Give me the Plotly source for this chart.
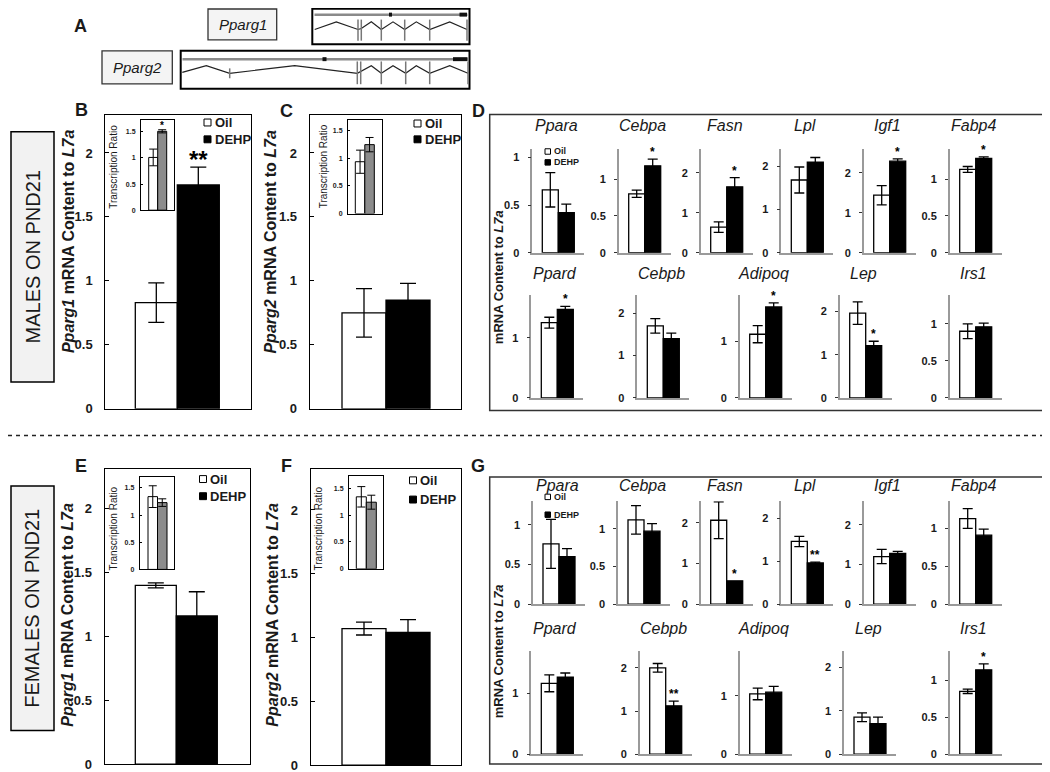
import plotly.graph_objects as go

W, H = 1050, 772
FONT = 'Arial, Liberation Sans, sans-serif'
AXIS_GREY = '#9a9a9a'
INK = '#1a1a1a'

# ---------------- data ----------------
GROUPS = ['Oil', 'DEHP']
TOP_GENES = ['Ppara', 'Cebpa', 'Fasn', 'Lpl', 'Igf1', 'Fabp4']
BOTTOM_GENES = ['Ppard', 'Cebpb', 'Adipoq', 'Lep', 'Irs1']

# panel D (males), order = TOP_GENES + BOTTOM_GENES
MALE_OIL = [0.66, 0.80, 0.64, 1.68, 1.44, 1.13, 1.25, 1.70, 1.12, 1.96, 0.90]
MALE_OIL_SEM = [0.18, 0.05, 0.13, 0.30, 0.24, 0.04, 0.09, 0.17, 0.15, 0.26, 0.10]
MALE_DEHP = [0.42, 1.18, 1.65, 2.09, 2.29, 1.28, 1.47, 1.40, 1.60, 1.21, 0.96]
MALE_DEHP_SEM = [0.09, 0.09, 0.23, 0.11, 0.06, 0.02, 0.05, 0.13, 0.07, 0.10, 0.05]
MALE_SIG = ['', '*', '*', '', '*', '*', '*', '', '*', '*', '']
MALE_YMAX = [1.09, 1.41, 2.6, 2.4, 2.6, 1.41, 1.71, 2.43, 1.81, 2.38, 1.39]

# panel G (females)
FEMALE_OIL = [0.76, 1.12, 2.06, 1.46, 1.20, 1.13, 1.17, 2.00, 1.03, 0.85, 0.85]
FEMALE_OIL_SEM = [0.31, 0.19, 0.45, 0.12, 0.18, 0.13, 0.14, 0.10, 0.10, 0.10, 0.03]
FEMALE_DEHP = [0.60, 0.97, 0.57, 0.96, 1.28, 0.91, 1.27, 1.12, 1.06, 0.70, 1.14]
FEMALE_DEHP_SEM = [0.10, 0.10, 0.0, 0.02, 0.05, 0.08, 0.07, 0.11, 0.10, 0.15, 0.08]
FEMALE_SIG = ['', '', '*', '**', '', '', '', '**', '', '', '*']
FEMALE_YMAX = [1.3, 1.37, 2.53, 2.4, 2.6, 1.36, 1.71, 2.4, 1.77, 2.38, 1.4]

SMALL_DTICK = [0.5, 0.5, 1, 1, 1, 0.5, 1, 1, 1, 1, 0.5]

# panels B, C, E, F (Pparg mRNA) and their transcription ratio insets
MALE_PPARG1 = [0.83, 1.75]
MALE_PPARG1_SEM = [0.155, 0.14]
MALE_PPARG2 = [0.75, 0.85]
MALE_PPARG2_SEM = [0.19, 0.13]
FEMALE_PPARG1 = [1.40, 1.16]
FEMALE_PPARG1_SEM = [0.02, 0.19]
FEMALE_PPARG2 = [1.07, 1.04]
FEMALE_PPARG2_SEM = [0.05, 0.10]

MALE_PPARG1_TR = [1.01, 1.51]
MALE_PPARG1_TR_SEM = [0.16, 0.03]
MALE_PPARG2_TR = [0.94, 1.25]
MALE_PPARG2_TR_SEM = [0.21, 0.13]
FEMALE_PPARG1_TR = [1.34, 1.23]
FEMALE_PPARG1_TR_SEM = [0.20, 0.07]
FEMALE_PPARG2_TR = [1.34, 1.24]
FEMALE_PPARG2_TR_SEM = [0.19, 0.13]

# gene structure schematic (panel A), drawing units = pixels
GENE1_INTRON_X = [306.7, 328.3, 350, 353.3, 363.3, 373.3, 385, 396.7, 408.3, 421.7, 441.7, 459]
GENE1_INTRON_Y = [21.7, 14, 21.7, 20.7, 14, 21.7, 14, 21.7, 14, 21.7, 14, 21.7]
GENE1_EXONS = [350, 353.3, 373.3, 396.7, 421.7, 459]
GENE2_INTRON_X = [174.3, 198.3, 221.7, 286.7, 349.3, 352.7, 363.3, 373.3, 385, 397.7, 408.3, 421.7, 441.7, 460]
GENE2_INTRON_Y = [65, 58.3, 66, 58.3, 66, 64, 58.3, 66, 58.3, 66, 58.3, 66, 58.3, 66]
GENE2_EXONS = [221.7, 349.3, 352.7, 373.3, 397.7, 421.7, 460]

# ---------------- helpers ----------------
layout = {}
traces = []
annotations = []
shapes = []
n_axes = [0]


def px(x):
    return x / W


def py(y):
    return 1 - y / H


def new_axes(x0, x1, y0, y1):
    n_axes[0] += 1
    sfx = '' if n_axes[0] == 1 else str(n_axes[0])
    layout['xaxis' + sfx] = dict(domain=[px(x0), px(x1)], anchor='y' + sfx,
                                 showgrid=False, zeroline=False, fixedrange=True)
    layout['yaxis' + sfx] = dict(domain=[py(y1), py(y0)], anchor='x' + sfx,
                                 showgrid=False, zeroline=False, fixedrange=True)
    return sfx


def add_bars(sfx, vals, sems, fills, cap, lw):
    for i, (v, s, c) in enumerate(zip(vals, sems, fills)):
        traces.append(go.Bar(
            x=[i], y=[v], width=1,
            marker=dict(color=c, line=dict(color='black', width=lw)),
            error_y=dict(type='data', array=[s], color='black', thickness=lw,
                         width=cap, visible=s > 0),
            xaxis='x' + sfx, yaxis='y' + sfx,
            showlegend=False, hoverinfo='skip'))


def add_star(sfx, text, y, size, shift):
    if text:
        annotations.append(dict(x=1, y=y, xref='x' + sfx, yref='y' + sfx, text=text,
                                showarrow=False, yanchor='bottom', yshift=shift,
                                font=dict(family=FONT, size=size, color='black', weight='bold')))


def text_at(x, y, text, size, bold=False, italic=False, angle=0, anchor='center'):
    annotations.append(dict(x=px(x), y=py(y), xref='paper', yref='paper', text=text,
                            showarrow=False, xanchor=anchor, yanchor='middle', textangle=angle,
                            font=dict(family=FONT, size=size, color=INK,
                                      weight='bold' if bold else 'normal',
                                      style='italic' if italic else 'normal')))


def rect(x0, y0, x1, y1, line='black', width=1, fill='rgba(0,0,0,0)', layer='above'):
    shapes.append(dict(type='rect', xref='paper', yref='paper', x0=px(x0), x1=px(x1),
                       y0=py(y1), y1=py(y0), line=dict(color=line, width=width),
                       fillcolor=fill, layer=layer))


def legend(x, y_oil, y_dehp, box, size):
    for y, fill, label in [(y_oil, 'white', GROUPS[0]), (y_dehp, 'black', GROUPS[1])]:
        rect(x, y - box / 2, x + box, y + box / 2, fill=fill)
        text_at(x + box + 1.5, y, label, size, bold=True, anchor='left')


def x_range(offset, bw, axis_w):
    return [-(offset + bw / 2) / bw, (axis_w - offset - bw / 2) / bw]


# ---------------- main Pparg panels ----------------
def main_panel(box, bar_px, vals, sems, ymax, sig=''):
    x0, x1, y0, y1 = box
    sfx = new_axes(x0, x1, y0, y1)
    layout['xaxis' + sfx].update(range=x_range(bar_px[0], bar_px[1], x1 - x0), showline=True,
                                 mirror=True, linecolor='black', linewidth=1, showticklabels=False)
    layout['yaxis' + sfx].update(range=[0, ymax], tick0=0, dtick=0.5, showline=True, mirror=True,
                                 linecolor='black', linewidth=1, ticks='inside', ticklen=4,
                                 tickcolor='black', ticklabelstandoff=9,
                                 tickfont=dict(family=FONT, size=13, color=INK, weight='bold'))
    add_bars(sfx, vals, sems, ['white', 'black'], 8, 1.3)
    add_star(sfx, sig, vals[1] + sems[1], 24, -8)


def inset_panel(box, bar_px, vals, sems, ymax, sig=''):
    x0, x1, y0, y1 = box
    sfx = new_axes(x0, x1, y0, y1)
    layout['xaxis' + sfx].update(range=x_range(bar_px[0], bar_px[1], x1 - x0), showline=True,
                                 mirror=True, linecolor='black', linewidth=1, showticklabels=False)
    layout['yaxis' + sfx].update(range=[0, ymax], tick0=0, dtick=0.5, showline=True, mirror=True,
                                 linecolor='black', linewidth=1, ticks='inside', ticklen=2,
                                 tickcolor='black', ticklabelstandoff=3,
                                 tickfont=dict(family=FONT, size=7, color=INK, weight='bold'))
    add_bars(sfx, vals, sems, ['white', '#8c8c8c'], 4, 1)
    add_star(sfx, sig, vals[1] + sems[1], 10, -3)


main_panel((97.3, 243, 107.7, 405), (30, 42), MALE_PPARG1, MALE_PPARG1_SEM, 2.30, '**')
inset_panel((133, 166, 113, 204.3), (7.7, 9), MALE_PPARG1_TR, MALE_PPARG1_TR_SEM, 1.73, '*')
main_panel((301.7, 453, 107.7, 405), (32.3, 44), MALE_PPARG2, MALE_PPARG2_SEM, 2.30)
inset_panel((340, 374.3, 113, 207.7), (7.3, 9.5), MALE_PPARG2_TR, MALE_PPARG2_TR_SEM, 1.70)
main_panel((96.5, 241.5, 466, 764), (30.8, 41), FEMALE_PPARG1, FEMALE_PPARG1_SEM, 2.31)
inset_panel((131.7, 166, 474, 567.3), (8.3, 9.5), FEMALE_PPARG1_TR, FEMALE_PPARG1_TR_SEM, 1.70)
main_panel((302.7, 452.7, 466, 765), (31.3, 44), FEMALE_PPARG2, FEMALE_PPARG2_SEM, 2.32)
inset_panel((341, 375, 473.3, 566.7), (7.3, 10), FEMALE_PPARG2_TR, FEMALE_PPARG2_TR_SEM, 1.72)

legend(196, 115.7, 132.7, 7, 13)
legend(406, 116.7, 132.7, 7, 13)
legend(191.5, 476, 493.3, 7, 13)
legend(401.5, 477.3, 496.7, 7, 13)

for x, yc, gene in [(60.5, 236, 'Pparg1'), (263, 236, 'Pparg2'),
                    (60, 613, 'Pparg1'), (265, 613, 'Pparg2')]:
    text_at(x, yc, f'<i>{gene}</i> mRNA Content to <i>L7a</i>', 16, bold=True, angle=-90)
for x, yc in [(105.5, 161), (315, 160), (106, 526), (311, 526)]:
    text_at(x, yc, 'Transcription Ratio', 10, angle=-90)

# ---------------- small gene panels (D, G) ----------------
SMALL_W = 52
SMALL_XR = x_range(10, 16, SMALL_W)
D_TOP_LEFT = [524.3, 610.7, 692.7, 773.3, 855.7, 941.7]
D_BOTTOM_LEFT = [523.3, 629.3, 731.7, 831.7, 941.7]
G_TOP_LEFT = [525, 610, 692.7, 773.3, 855.7, 941.7]
G_BOTTOM_LEFT = [523.3, 631.7, 731.7, 836, 941.7]


def small_panel(gene, left, top, base, title_y, oil, oil_sem, dehp, dehp_sem, sig, ymax, dtick):
    sfx = new_axes(left, left + SMALL_W, top, base)
    layout['xaxis' + sfx].update(range=SMALL_XR, showline=True, linecolor=AXIS_GREY,
                                 linewidth=2, showticklabels=False)
    layout['yaxis' + sfx].update(range=[0, ymax], tick0=0, dtick=dtick, showline=True,
                                 linecolor=AXIS_GREY, linewidth=1.5, ticks='outside', ticklen=3,
                                 tickcolor='#333', ticklabelstandoff=6,
                                 tickfont=dict(family=FONT, size=11, color=INK, weight='bold'))
    add_bars(sfx, [oil, dehp], [oil_sem, dehp_sem], ['white', 'black'], 5, 1.3)
    add_star(sfx, sig, dehp + dehp_sem, 12, -2)
    text_at(left + 24, title_y, gene, 16, italic=True)


def gene_block(oil, oil_sem, dehp, dehp_sem, sig, ymax, rows):
    genes = TOP_GENES + BOTTOM_GENES
    lefts = rows[0][0] + rows[1][0]
    for i, gene in enumerate(genes):
        top, base, ty = rows[0][1:] if i < len(TOP_GENES) else rows[1][1:]
        small_panel(gene, lefts[i], top, base, ty, oil[i], oil_sem[i], dehp[i], dehp_sem[i],
                    sig[i], ymax[i], SMALL_DTICK[i])


gene_block(MALE_OIL, MALE_OIL_SEM, MALE_DEHP, MALE_DEHP_SEM, MALE_SIG, MALE_YMAX,
           [(D_TOP_LEFT, 142.3, 247.3, 118.3), (D_BOTTOM_LEFT, 290, 394, 268.3)])
gene_block(FEMALE_OIL, FEMALE_OIL_SEM, FEMALE_DEHP, FEMALE_DEHP_SEM, FEMALE_SIG, FEMALE_YMAX,
           [(G_TOP_LEFT, 498.3, 602.3, 483), (G_BOTTOM_LEFT, 649.3, 754, 626.7)])

rect(481.7, 107.7, 1047.5, 406.7, line='#333', width=1.5)
rect(481.7, 474, 1047.5, 764, line='#333', width=1.5)
legend(537, 145, 156, 5.5, 9)
legend(537, 494, 512, 5.5, 9)
text_at(490, 272, 'mRNA Content to <i>L7a</i>', 13, bold=True, angle=-90)
text_at(490, 650, 'mRNA Content to <i>L7a</i>', 13, bold=True, angle=-90)

# ---------------- panel A schematic ----------------
gsfx = new_axes(0, W, 0, 85)
layout['xaxis' + gsfx].update(range=[0, W], visible=False)
layout['yaxis' + gsfx].update(range=[85, 0], visible=False)
rect(304.3, 0.8, 461.5, 36.7, width=2)
rect(172.7, 43.3, 461.5, 81.7, width=2)
for y, x0 in [(6.7, 306.5), (51.7, 174.5)]:
    shapes.append(dict(type='line', xref='x' + gsfx, yref='y' + gsfx, x0=x0, x1=459.5,
                       y0=y, y1=y, line=dict(color='#8a8a8a', width=2.5)))
for xs, ys in [(GENE1_INTRON_X, GENE1_INTRON_Y), (GENE2_INTRON_X, GENE2_INTRON_Y)]:
    traces.append(go.Scatter(x=xs, y=ys, mode='lines', line=dict(color='#222', width=1.2),
                             xaxis='x' + gsfx, yaxis='y' + gsfx, showlegend=False,
                             hoverinfo='skip', cliponaxis=False))
for exons, (ya, yb) in [(GENE1_EXONS, (11.7, 33)), (GENE2_EXONS, (54, 77))]:
    for i, x in enumerate(exons):
        lo, hi = (ya, yb) if not (exons is GENE2_EXONS and i == 0) else (61, 71)
        shapes.append(dict(type='line', xref='x' + gsfx, yref='y' + gsfx, x0=x, x1=x,
                           y0=lo, y1=hi, line=dict(color='#777', width=1.5)))
for x0, x1, y in [(381, 384, 6.7), (451.5, 459, 6.7), (314.5, 318.5, 51.7), (445, 459.5, 51.7)]:
    shapes.append(dict(type='rect', xref='x' + gsfx, yref='y' + gsfx, x0=x0, x1=x1,
                       y0=y - 2, y1=y + 2, line=dict(width=0), fillcolor='#111'))
rect(200, 1, 268.7, 32.3, line='#333', width=1.3, fill='#f4f4f4')
rect(94, 43.3, 164.3, 76.7, line='#333', width=1.3, fill='#f4f4f4')
text_at(234.5, 17, 'Pparg1', 15, italic=True)
text_at(129, 60, 'Pparg2', 15, italic=True)

# ---------------- frame, sex labels, panel letters ----------------
rect(3, 125, 46, 378, line='black', width=1.5, fill='#f2f2f2')
rect(3, 483, 46, 730, line='black', width=1.5, fill='#f2f2f2')
text_at(24.5, 251.5, 'MALES ON PND21', 20, angle=-90)
text_at(24.5, 606.5, 'FEMALES ON PND21', 20, angle=-90)
shapes.append(dict(type='line', xref='paper', yref='paper', x0=0, x1=1, y0=py(432), y1=py(432),
                   line=dict(color='#222', width=1.3, dash='4px,4px')))
for letter, x, y in [('A', 72, 18), ('B', 73, 103), ('C', 278, 104), ('D', 470, 104),
                     ('E', 73, 463), ('F', 278, 463), ('G', 470, 463)]:
    text_at(x, y, letter, 18, bold=True)

fig = go.Figure(data=traces)
fig.update_layout(**layout)
fig.update_layout(
    width=W, height=H, autosize=False,
    margin=dict(l=0, r=0, t=0, b=0),
    barmode='overlay',
    paper_bgcolor='white', plot_bgcolor='rgba(0,0,0,0)',
    annotations=annotations, shapes=shapes,
    font=dict(family=FONT, color=INK),
    showlegend=False,
)
fig.write_html("out.html")
